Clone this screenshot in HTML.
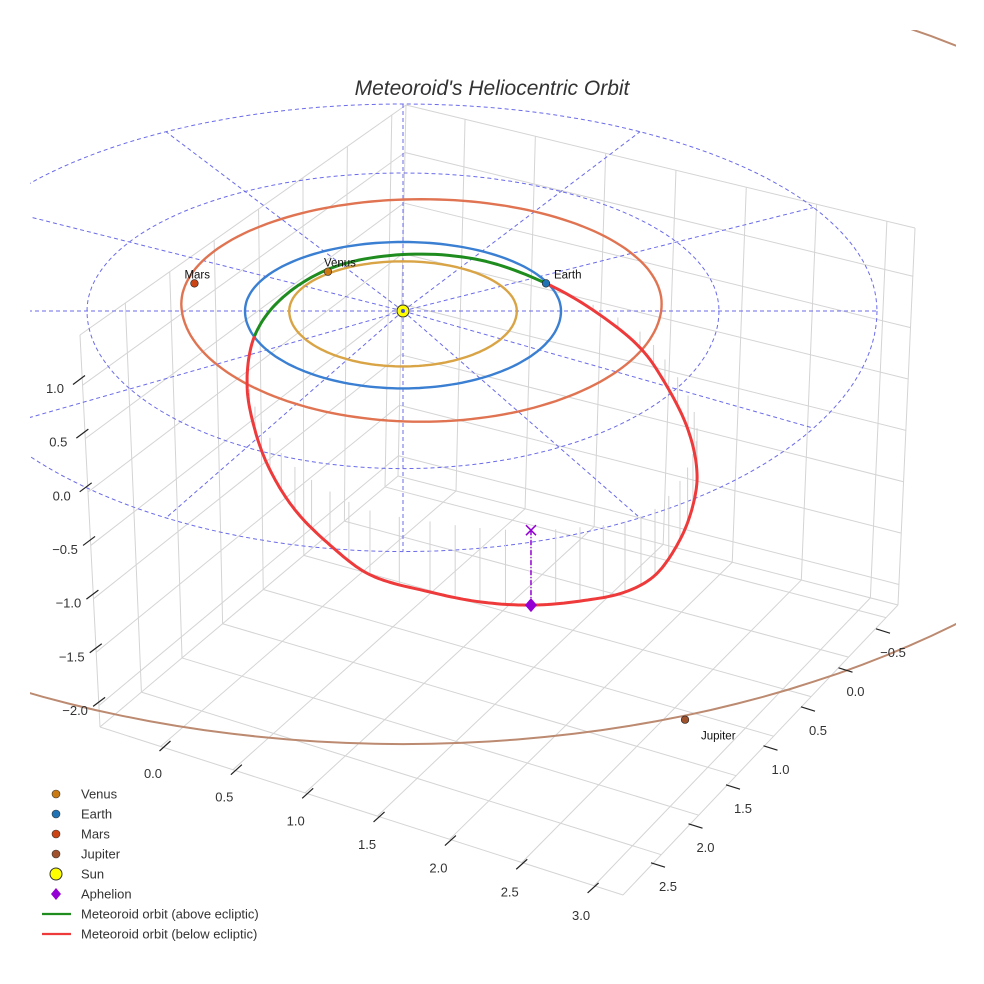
<!DOCTYPE html>
<html><head><meta charset="utf-8"><style>
body{margin:0;background:#fff}
svg{display:block;font-family:"Liberation Sans",sans-serif}
</style></head><body>
<svg id="chart" width="984" height="984" viewBox="0 0 984 984" xmlns="http://www.w3.org/2000/svg">
<defs><clipPath id="gclip"><rect x="30" y="0" width="928" height="984"/></clipPath>
<clipPath id="jclip"><rect x="30" y="30" width="926" height="954"/></clipPath></defs>
<text x="492" y="95" text-anchor="middle" font-size="21" font-style="italic" fill="#333">Meteoroid's Heliocentric Orbit</text>
<g id="grid"></g>
<g id="polar" clip-path="url(#gclip)"></g>
<g id="orbits" clip-path="url(#jclip)"></g>
<g id="met"></g>
<g id="marks"></g>
<g id="ticks"></g>
<g id="legend"></g>
</svg>
<script>
// ---- data ----
const xTicks=[0,0.5,1,1.5,2,2.5,3];
const yTicks=[-0.5,0,0.5,1,1.5,2,2.5];
const zTicks=[-2,-1.5,-1,-0.5,0,0.5,1];
const ringRadii=[1,2,3];
const spokeAngles=[0,30,60,90,120,150,180,210,240,270,300,330];
const planetNames=['Venus','Earth','Mars','Jupiter'];
const planetRadii=[0.72,1.0,1.52,5.2];
const planetOrbitCenterX=[0,0,0.117,0];
const planetOrbitCenterY=[0,0,-0.1,0];
const planetPosX=[-0.475,0.905,-1.32,1.785];
const planetPosY=[-0.57,-0.40,-0.40,4.93];
const orbitColors=['#d9a445','#3a7fd2','#e07452','#bc8a70'];
const markerColors=['#c97a12','#1f72b4','#cc4413','#a0522d'];
const meteoroidX=[0.905,0.49,0,-0.46,-0.78,-0.94,-0.987,-0.937,-0.842,-0.684,-0.462,-0.209,0.171,0.487,0.81,1.12,1.405,1.595,1.753,1.835,1.861,1.804,1.658,1.50,1.203];
const meteoroidY=[-0.40,-0.66,-0.71,-0.54,-0.11,0.33,0.79,1.23,1.62,1.98,2.28,2.51,2.64,2.72,2.745,2.71,2.64,2.49,2.15,1.82,1.50,1.09,0.63,0.27,-0.09];
const meteoroidZ=[0,0.05,0.07,0.05,0.03,0,-0.12,-0.22,-0.30,-0.40,-0.50,-0.60,-0.66,-0.69,-0.70,-0.69,-0.66,-0.62,-0.55,-0.48,-0.42,-0.32,-0.22,-0.15,-0.05];
const aphelion=[0.81,2.745,-0.70];

const NS='http://www.w3.org/2000/svg';
function mk(tag,attrs,parent){const e=document.createElementNS(NS,tag);for(const k in attrs)e.setAttribute(k,attrs[k]);parent.appendChild(e);return e;}
const lerp=(a,b,t)=>[a[0]+(b[0]-a[0])*t,a[1]+(b[1]-a[1])*t];
const L=[100,727],F=[623,895],R=[898,605],B=[398,476],Lt=[80,335],Bt=[406,105],Rt=[915,228];
const xmin=-0.42,xmax=3.2,ymin=-0.66,ymax=3.01,zmin=-2.2,zmax=1.47;
const uX=x=>(x-xmin)/(xmax-xmin), vY=y=>(ymax-y)/(ymax-ymin), wZ=z=>(z-zmin)/(zmax-zmin);
const grid=document.getElementById('grid');
function gl(a,b,name){const l=mk('line',{x1:a[0],y1:a[1],x2:b[0],y2:b[1],stroke:'#d4d4d4','stroke-width':1},grid);

}
xTicks.forEach(x=>{const u=uX(x);gl(lerp(L,F,u),lerp(B,R,u),'floor-gridline-x');gl(lerp(B,R,u),lerp(Bt,Rt,u),'wall-gridline-x');});
yTicks.forEach(y=>{const v=vY(y);gl(lerp(L,B,v),lerp(F,R,v),'floor-gridline-y');gl(lerp(L,B,v),lerp(Lt,Bt,v),'wall-gridline-y');});
zTicks.forEach(z=>{const w=wZ(z);const l=lerp(L,Lt,w),b=lerp(B,Bt,w),r=lerp(R,Rt,w);gl(l,b,'wall-gridline-z');gl(b,r,'wall-gridline-z');});
gl(L,F,'x-axis-line');gl(F,R,'y-axis-line');gl(L,Lt,'z-axis-line');gl(B,Bt,'box-edge');gl(R,Rt,'box-edge');gl(Lt,Bt,'box-edge');gl(Bt,Rt,'box-edge');gl(L,B,'box-edge');gl(B,R,'box-edge');

function P(X,Y,Z){const k=Y<0?69:76+1.4*Y;return [403+158*X,311+k*Y-107*(Z||0)];}
function ringPath(cx,cy,r,a0,a1){let d='';for(let a=a0;a<=a1;a+=2){const t=a*Math.PI/180;const p=P(cx+r*Math.cos(t),cy+r*Math.sin(t),0);d+=(d?'L':'M')+p[0].toFixed(1)+','+p[1].toFixed(1);}return d;}
const polar=document.getElementById('polar');
ringRadii.forEach(r=>{const e=mk('path',{d:ringPath(0,0,r,0,360),fill:'none',stroke:'#6b6bea','stroke-width':1,'stroke-dasharray':'4,3'},polar);

});
spokeAngles.forEach(a=>{const t=a*Math.PI/180,r=ringRadii[ringRadii.length-1];const p0=P(0,0,0),p1=P(r*Math.cos(t),r*Math.sin(t),0);
const e=mk('line',{x1:p0[0],y1:p0[1],x2:p1[0],y2:p1[1],stroke:'#6b6bea','stroke-width':1,'stroke-dasharray':'4,3'},polar);

});

const orbits=document.getElementById('orbits');
planetNames.forEach((n,i)=>{const e=mk('path',{d:ringPath(planetOrbitCenterX[i],planetOrbitCenterY[i],planetRadii[i],0,360),fill:'none',stroke:orbitColors[i],'stroke-width':i==3?2:2.4},orbits);

});

const N=meteoroidX.length,samples=[];
const pt=i=>{i=(i+N)%N;const s=P(meteoroidX[i],meteoroidY[i],meteoroidZ[i]);return [s[0],s[1],meteoroidX[i],meteoroidY[i],meteoroidZ[i]];};
const mix=(a,b,ta,tb,t)=>a.map((v,k)=>((tb-t)*v+(t-ta)*b[k])/(tb-ta));
const dist=(a,b)=>Math.pow(Math.hypot(a[0]-b[0],a[1]-b[1])||1e-3,0.5);
for(let i=0;i<N;i++){const p0=pt(i-1),p1=pt(i),p2=pt(i+1),p3=pt(i+2);
 const t0=0,t1=t0+dist(p0,p1),t2=t1+dist(p1,p2),t3=t2+dist(p2,p3);
 for(let s=0;s<12;s++){const t=t1+(t2-t1)*s/12;
  const A1=mix(p0,p1,t0,t1,t),A2=mix(p1,p2,t1,t2,t),A3=mix(p2,p3,t2,t3,t);
  const B1=mix(A1,A2,t0,t2,t),B2=mix(A2,A3,t1,t3,t);
  samples.push(mix(B1,B2,t1,t2,t));}}
samples.push(samples[0]);
const met=document.getElementById('met');
samples.forEach((q,i)=>{if(i%6===0&&q[4]<-0.03){const b=P(q[2],q[3],0);
 const e=mk('line',{x1:q[0],y1:q[1],x2:b[0],y2:b[1]+(q[1]-P(q[2],q[3],q[4])[1]),stroke:'#d2d2d2','stroke-width':1},met);
 
 }});
let segCol=null,d='';
function flush(){if(d){const e=mk('path',{d:d,fill:'none',stroke:segCol,'stroke-width':3,'stroke-linejoin':'round'},met);
 
 }}
for(let i=0;i<samples.length-1;i++){const a=samples[i],b=samples[i+1];const col=(a[4]+b[4])/2>=0?'#1e8c1e':'#ee3a3a';
 if(col!==segCol){flush();segCol=col;d='M'+a[0].toFixed(1)+','+a[1].toFixed(1);}
 d+='L'+b[0].toFixed(1)+','+b[1].toFixed(1);}
flush();

const marks=document.getElementById('marks');
const ap=P(...aphelion),ae=P(aphelion[0],aphelion[1],0);
let e=mk('line',{x1:ae[0],y1:ae[1],x2:ap[0],y2:ap[1],stroke:'#9400d3','stroke-width':1.5,'stroke-dasharray':'5,2,1,2'},marks);


e=mk('path',{d:`M${ae[0]-5},${ae[1]-5}L${ae[0]+5},${ae[1]+5}M${ae[0]+5},${ae[1]-5}L${ae[0]-5},${ae[1]+5}`,stroke:'#9400d3','stroke-width':1.5},marks);


e=mk('path',{d:`M${ap[0]},${ap[1]-7}L${ap[0]+6},${ap[1]}L${ap[0]},${ap[1]+7}L${ap[0]-6},${ap[1]}Z`,fill:'#9400d3'},marks);


const sp=P(0,0,0);
e=mk('circle',{cx:sp[0],cy:sp[1],r:6,fill:'#ffff00',stroke:'#333','stroke-width':1},marks);


mk('circle',{cx:sp[0],cy:sp[1],r:2,fill:'#4455cc'},marks);
const labelOff=[[-4,-5],[8,-5],[-10,-5],[16,20]];
planetNames.forEach((n,i)=>{const p=P(planetPosX[i],planetPosY[i],0);
 const c=mk('circle',{cx:p[0],cy:p[1],r:3.8,fill:markerColors[i],stroke:'#222','stroke-width':0.6},marks);
 
 
 const t=mk('text',{x:p[0]+labelOff[i][0],y:p[1]+labelOff[i][1],'font-size':11.5,fill:'#111'},marks);t.textContent=n;
 
 });

const ticks=document.getElementById('ticks');
function tick(c,dx,dy,lab,lx,ly,name){const l=mk('line',{x1:c[0]-dx,y1:c[1]-dy,x2:c[0]+dx,y2:c[1]+dy,stroke:'#222','stroke-width':1.2},ticks);
 
 
 const t=mk('text',{x:lx,y:ly+5,'text-anchor':'middle','font-size':13,fill:'#333'},ticks);t.textContent=lab;
 
 }
const fmt=v=>(v<0?'\u2212':'')+Math.abs(v).toFixed(1);
xTicks.forEach(x=>{const lx=153+(x-0)*142.7,ly=773+(x-0)*47.3;tick([lx+12,ly-27],5.5,-5,fmt(x),lx,ly,'x-axis');});
yTicks.forEach(y=>{const lx=893+(y+0.5)*(-75),ly=652+(y+0.5)*78;tick([lx-10,ly-21],7,2.2,fmt(y),lx,ly,'y-axis');});
zTicks.forEach(z=>{const lx=55+(1-z)*6.7,ly=388+(1-z)*107.3;tick([lx+24,ly-8],6,-4.5,fmt(z),lx,ly,'z-axis');});

const lg=document.getElementById('legend');
const legItems=[['Venus','c','#c97a12'],['Earth','c','#1f72b4'],['Mars','c','#cc4413'],['Jupiter','c','#a0522d'],['Sun','s','#ffff00'],['Aphelion','d','#9400d3'],['Meteoroid orbit (above ecliptic)','l','#1e8c1e'],['Meteoroid orbit (below ecliptic)','l','#ee3a3a']];
legItems.forEach((it,i)=>{const y=794+i*20;let m;
 if(it[1]==='c')m=mk('circle',{cx:56,cy:y,r:4,fill:it[2],stroke:'#333','stroke-width':0.6},lg);
 else if(it[1]==='s')m=mk('circle',{cx:56,cy:y,r:6,fill:it[2],stroke:'#333','stroke-width':1},lg);
 else if(it[1]==='d')m=mk('path',{d:`M56,${y-6}L61,${y}L56,${y+6}L51,${y}Z`,fill:it[2]},lg);
 else m=mk('line',{x1:42,y1:y,x2:71,y2:y,stroke:it[2],'stroke-width':2.2},lg);
 
 
 const t=mk('text',{x:81,y:y+4.5,'font-size':13,fill:'#333'},lg);t.textContent=it[0];
 
 });
</script>
</body></html>
